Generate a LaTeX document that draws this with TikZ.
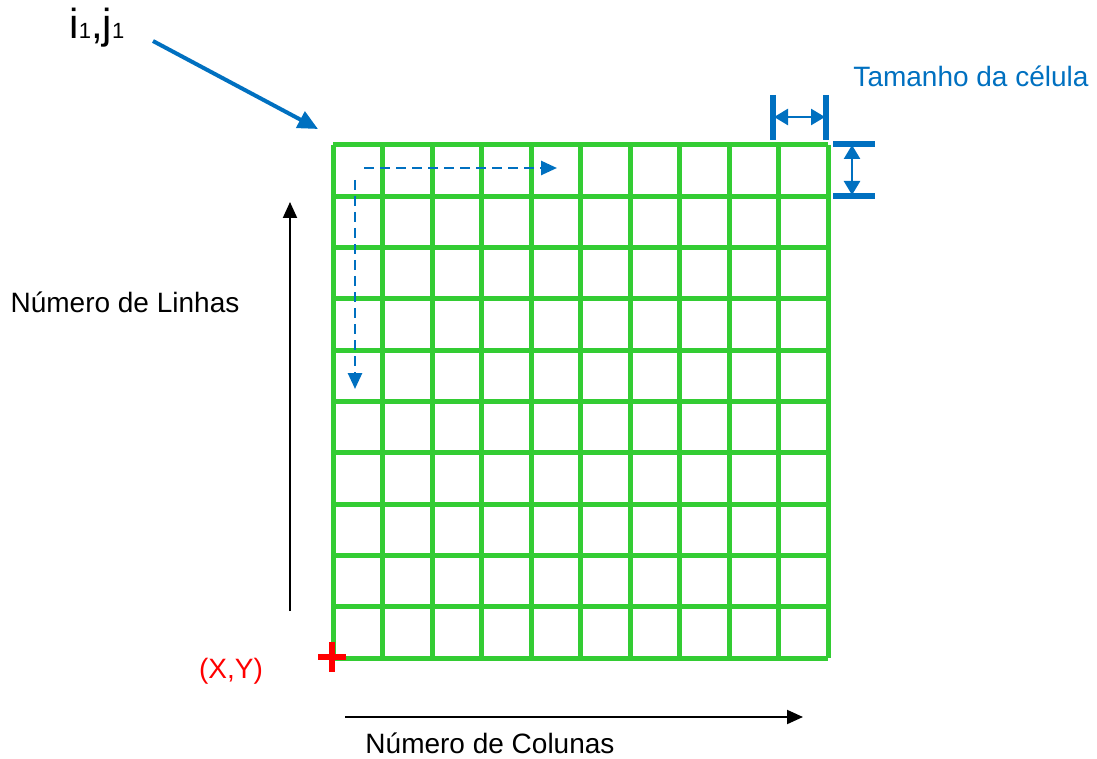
\documentclass[tikz,border=0pt]{standalone}
\usepackage{fontspec}
\setmainfont{Liberation Sans}
\usetikzlibrary{arrows.meta,positioning}
\definecolor{gridgreen}{RGB}{51,204,51}
\definecolor{officeblue}{RGB}{0,112,192}
\definecolor{markred}{RGB}{255,0,0}

\begin{document}
\begin{tikzpicture}[
    x=0.5pt,y=-0.5pt,
    gridline/.style={gridgreen,line width=2.5pt},
    label/.style={font=\fontsize{14}{17}\selectfont,inner sep=0pt},
    axisarrow/.style={-{Triangle[length=8pt,width=7pt]},line width=1pt,black},
    scanarrow/.style={-{Triangle[length=8pt,width=7pt]},line width=1.3pt,officeblue,dash pattern=on 5pt off 3pt},
    dimbar/.style={officeblue,line width=3pt},
    dimarrow/.style={{Triangle[length=7pt,width=8pt]}-{Triangle[length=7pt,width=8pt]},line width=1.3pt,officeblue}
]
\useasboundingbox (0,0) rectangle (1097,759);

% grid of cells
\foreach \i in {0,...,10} {
  \draw[gridline] ({333+49.5*\i},145) -- ({333+49.5*\i},658);
  \draw[gridline] (333,{145+51.3*\i}) -- (828,{145+51.3*\i});
}

% origin mark
\coordinate (origin) at (332,657);
\draw[markred,line width=3pt] ([xshift=-7pt]origin) -- ([xshift=7pt]origin);
\draw[markred,line width=3pt] ([yshift=7.5pt]origin) -- ([yshift=-7.5pt]origin);
\node[label,markred] (xy) at (231,671) {(X,Y)};

% first cell
\node[inner sep=0pt,font=\fontsize{21}{25}\selectfont] (ij) at (97,28) {i{\fontsize{11}{13}\selectfont 1},j{\fontsize{11}{13}\selectfont 1}};
\coordinate (ijfrom) at (153,41);
\coordinate (ijto) at (318,129);
\draw[-{Triangle[length=10pt,width=9pt]},line width=2pt,officeblue] (ijfrom) -- (ijto);

% scan order
\coordinate (rowfrom) at (364,168);
\coordinate (rowto) at (557,168);
\coordinate (colfrom) at (355,180);
\coordinate (colto) at (355,389);
\draw[scanarrow] (rowfrom) -- (rowto);
\draw[scanarrow] (colfrom) -- (colto);

% cell size
\node[label,officeblue] (cellsize) at (971,76) {Tamanho da célula};
\draw[dimbar] (773,95) -- (773,140);
\draw[dimbar] (826,95) -- (826,140);
\coordinate (wfrom) at (774,117);
\coordinate (wto) at (825,117);
\draw[dimarrow] (wfrom) -- (wto);
\draw[dimbar] (833,144) -- (875,144);
\draw[dimbar] (833,196) -- (875,196);
\coordinate (hfrom) at (852,145);
\coordinate (hto) at (852,195);
\draw[dimarrow] (hfrom) -- (hto);

% axes
\coordinate (rowsfrom) at (290,611);
\coordinate (rowsto) at (290,202);
\draw[axisarrow] (rowsfrom) -- (rowsto);
\node[label] (rows) at (125,302) {Número de Linhas};
\coordinate (colsfrom) at (345,717);
\coordinate (colsto) at (803,717);
\draw[axisarrow] (colsfrom) -- (colsto);
\node[label] (cols) at (490,743) {Número de Colunas};
\end{tikzpicture}
\end{document}
